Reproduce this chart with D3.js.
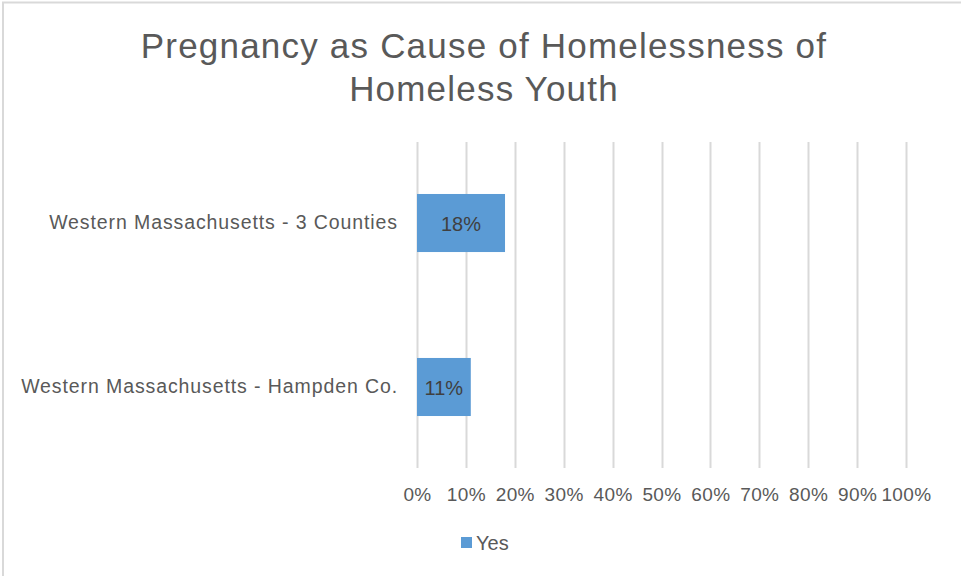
<!DOCTYPE html>
<html>
<head>
<meta charset="utf-8">
<script src="https://cdn.jsdelivr.net/npm/d3@7"></script>
<style>
  html, body { margin: 0; padding: 0; background: #fff; }
  svg { display: block; }
  svg text { font-family: "Liberation Sans", Arial, sans-serif; }
</style>
</head>
<body>
<svg id="chart" width="961" height="576"></svg>
<script>
// Chart data
const categories = ["Western Massachusetts - 3 Counties", "Western Massachusetts - Hampden Co."];
const yesValues = [18, 11];
const tickValues = [0, 10, 20, 30, 40, 50, 60, 70, 80, 90, 100];
const tickLabels = ["0%", "10%", "20%", "30%", "40%", "50%", "60%", "70%", "80%", "90%", "100%"];
const seriesName = "Yes";
const titleLines = ["Pregnancy as Cause of Homelessness of", "Homeless Youth"];

const svg = d3.select("#chart");
const W = 961, H = 576;
const barColor = "#5B9BD5";
const textColor = "#595959";

// Outer chart border
svg.append("rect")
  .attr("x", 3).attr("y", 2.5)
  .attr("width", W + 10).attr("height", H + 10)
  .attr("fill", "#fff")
  .attr("stroke", "#d9d9d9").attr("stroke-width", 2);

// Plot area
const plot = { left: 417, right: 906, top: 142, bottom: 468 };

const x = d3.scaleLinear().domain([0, 100]).range([plot.left, plot.right]);
const y = d3.scaleBand().domain(categories).range([plot.top, plot.bottom])
  .paddingInner(0.646).paddingOuter(0.317);

// Title
svg.append("text")
  .attr("text-anchor", "middle")
  .attr("fill", textColor)
  .style("font-size", "35px")
  .style("letter-spacing", "1.2px")
  .selectAll("tspan")
  .data(titleLines)
  .join("tspan")
  .attr("x", 484)
  .attr("y", (d, i) => 58 + i * 43)
  .text(d => d);

// Vertical gridlines
svg.append("g")
  .selectAll("line")
  .data(tickValues)
  .join("line")
  .attr("x1", d => Math.round(x(d)) + 0.5)
  .attr("x2", d => Math.round(x(d)) + 0.5)
  .attr("y1", plot.top)
  .attr("y2", plot.bottom)
  .attr("stroke", "#d9d9d9")
  .attr("stroke-width", 2);

// X axis tick labels
const xAxis = d3.axisBottom(x)
  .tickValues(tickValues)
  .tickFormat((d, i) => tickLabels[i])
  .tickSize(0)
  .tickPadding(0);
const gx = svg.append("g")
  .attr("transform", `translate(0, ${plot.bottom})`)
  .call(xAxis);
gx.attr("font-family", null).attr("font-size", null);
gx.select(".domain").remove();
gx.selectAll("text")
  .style("font-size", "19px")
  .style("letter-spacing", "0.4px")
  .attr("fill", textColor)
  .attr("dy", null)
  .attr("y", 33);

// Category labels
const yAxis = d3.axisLeft(y).tickSize(0).tickPadding(19);
const gy = svg.append("g")
  .attr("transform", `translate(${plot.left}, 0)`)
  .call(yAxis);
gy.attr("font-family", null).attr("font-size", null);
gy.select(".domain").remove();
gy.selectAll("text")
  .style("font-size", "19.5px")
  .style("letter-spacing", "0.9px")
  .attr("fill", textColor);

// Bars
const rows = categories.map((c, i) => ({ c, v: yesValues[i] }));
svg.append("g")
  .selectAll("rect")
  .data(rows)
  .join("rect")
  .attr("x", x(0))
  .attr("y", d => y(d.c))
  .attr("width", d => x(d.v) - x(0))
  .attr("height", y.bandwidth())
  .attr("fill", barColor);

// Value labels
svg.append("g")
  .selectAll("text")
  .data(rows)
  .join("text")
  .attr("x", d => (x(0) + x(d.v)) / 2)
  .attr("y", d => y(d.c) + y.bandwidth() / 2)
  .attr("dy", "0.42em")
  .attr("text-anchor", "middle")
  .style("font-size", "20px")
  .attr("fill", "#404040")
  .text(d => d.v + "%");

// Legend
const legend = svg.append("g").attr("transform", "translate(461, 537)");
legend.append("rect")
  .attr("width", 11).attr("height", 11)
  .attr("fill", barColor);
legend.append("text")
  .attr("x", 15).attr("y", 13)
  .style("font-size", "20px")
  .attr("fill", textColor)
  .text(seriesName);
</script>
</body>
</html>
